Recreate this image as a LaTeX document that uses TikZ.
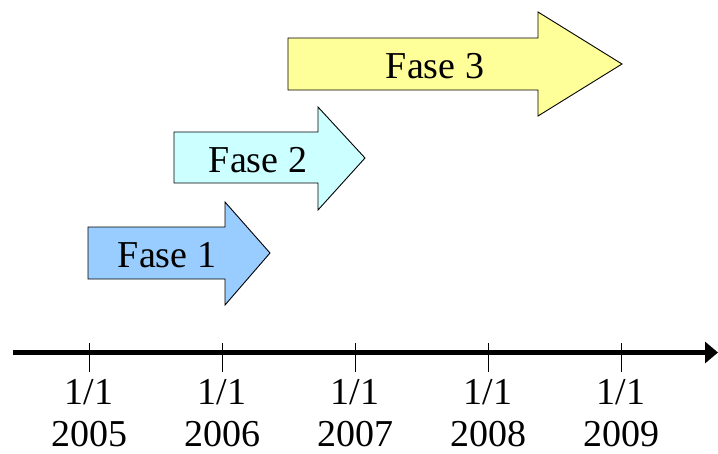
\documentclass[tikz,border=0pt]{standalone}
\usepackage{fontspec}
\setmainfont{Liberation Serif}
\usetikzlibrary{arrows.meta}

\definecolor{fasebl}{HTML}{99CCFF}
\definecolor{fasecy}{HTML}{CCFFFF}
\definecolor{faseye}{HTML}{FFFF99}

\tikzset{
  fasearrow/.style={draw=black, line width=0.9pt, line join=miter},
  fasetext/.style={anchor=base, inner sep=0pt, font=\fontsize{38pt}{46pt}\selectfont},
  ticklabel/.style={anchor=base, inner sep=0pt, font=\fontsize{38pt}{46pt}\selectfont},
}

\begin{document}
\begin{tikzpicture}[x=1pt, y=-1pt]
  \useasboundingbox (0,0) rectangle (718,453);

  % Phase arrows
  \draw[fasearrow, fill=fasebl] (88,227) -- (225,227) -- (225,202) -- (270,253)
    -- (225,305) -- (225,279) -- (88,279) -- cycle;
  \draw[fasearrow, fill=fasecy] (174,132) -- (318,132) -- (318,107) -- (365,158)
    -- (318,210) -- (318,183) -- (174,183) -- cycle;
  \draw[fasearrow, fill=faseye] (288,38) -- (538,38) -- (538,12) -- (622,64)
    -- (538,116) -- (538,90) -- (288,90) -- cycle;

  \node[fasetext] (f1) at (167,267) {Fase 1};
  \node[fasetext] (f2) at (258,172) {Fase 2};
  \node[fasetext] (f3) at (435,78) {Fase 3};

  % Time axis
  \coordinate (ax0) at (13,352.5);
  \coordinate (ax1) at (718,352.5);
  \draw[line width=4.5pt, -{Triangle[length=13pt,width=21pt]}] (ax0) -- (ax1);

  \foreach \x/\yr in {89/2005, 222/2006, 355/2007, 488/2008, 621/2009} {
    \coordinate (t\yr) at (\x,343);
    \coordinate (b\yr) at (\x,372);
    \draw[line width=1pt] (t\yr) -- (b\yr);
    \node[ticklabel] (d\yr) at (\x,404) {1/1};
    \node[ticklabel] (y\yr) at (\x,446) {\yr};
  }
\end{tikzpicture}
\end{document}
